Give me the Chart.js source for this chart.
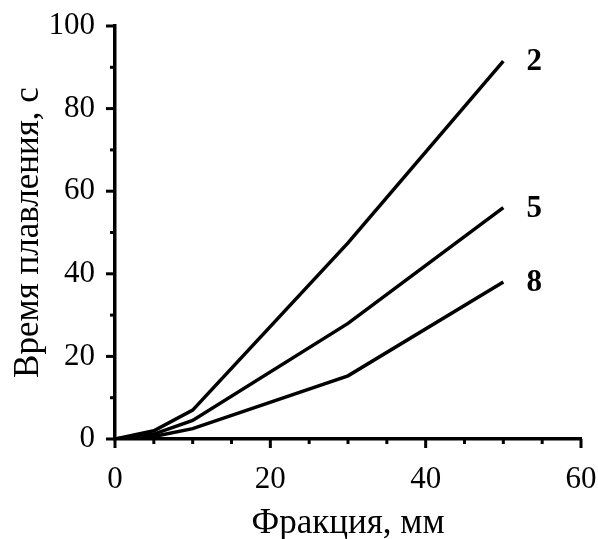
<!DOCTYPE html>
<html lang="ru">
<head>
  <meta charset="UTF-8">
  <title>Время плавления</title>
  <script src="https://cdn.jsdelivr.net/npm/chart.js"></script>
  <style>
    html, body { margin: 0; padding: 0; background: #fff; }
    .chart-container { position: relative; width: 598px; height: 539px; }
  </style>
</head>
<body>
  <div class="chart-container">
    <canvas id="meltChart"></canvas>
  </div>

  <script>
    // Фракция, мм
    const fractions = [0, 5, 10, 30, 50];
    // Время плавления, с — для кривых 2, 5, 8
    const series2 = [0, 2, 7, 47.5, 91.5];
    const series5 = [0, 1.2, 4.5, 28, 56];
    const series8 = [0, 0.6, 2.5, 15.3, 38];
    const seriesNames = ['2', '5', '8'];

    const serif = "'Liberation Serif', 'Times New Roman', serif";

    function toPoints(values) {
      return fractions.map((x, i) => ({ x: x, y: values[i] }));
    }

    // Засечки: длинные на подписанных значениях, короткие на остальных
    const tickMarks = {
      id: 'tickMarks',
      afterDraw(chart) {
        const ctx = chart.ctx;
        const xs = chart.scales.x;
        const ys = chart.scales.y;
        ctx.save();
        ctx.strokeStyle = '#000';
        ctx.lineWidth = 3;
        xs.ticks.forEach(t => {
          const px = xs.getPixelForValue(t.value);
          const len = t.value % 20 === 0 ? 9 : 5;
          ctx.beginPath();
          ctx.moveTo(px, ys.bottom);
          ctx.lineTo(px, ys.bottom + len);
          ctx.stroke();
        });
        ys.ticks.forEach(t => {
          const py = ys.getPixelForValue(t.value);
          const len = t.value % 20 === 0 ? 9 : 5;
          ctx.beginPath();
          ctx.moveTo(xs.left, py);
          ctx.lineTo(xs.left - len, py);
          ctx.stroke();
        });
        ctx.restore();
      }
    };

    // Номера кривых справа от концов линий
    const curveLabels = {
      id: 'curveLabels',
      afterDatasetsDraw(chart) {
        const ctx = chart.ctx;
        ctx.save();
        ctx.fillStyle = '#000';
        ctx.font = 'bold 31px ' + serif;
        ctx.textAlign = 'center';
        ctx.textBaseline = 'middle';
        chart.data.datasets.forEach((ds, i) => {
          const last = ds.data[ds.data.length - 1];
          const px = chart.scales.x.getPixelForValue(last.x) + 31;
          const py = chart.scales.y.getPixelForValue(last.y) + 1;
          ctx.fillText(seriesNames[i], px, py);
        });
        ctx.restore();
      }
    };

    const lineStyle = {
      borderColor: '#000',
      borderWidth: 3.5,
      pointRadius: 0,
      fill: false,
      tension: 0
    };

    new Chart(document.getElementById('meltChart'), {
      type: 'line',
      data: {
        datasets: [
          Object.assign({ label: seriesNames[0], data: toPoints(series2) }, lineStyle),
          Object.assign({ label: seriesNames[1], data: toPoints(series5) }, lineStyle),
          Object.assign({ label: seriesNames[2], data: toPoints(series8) }, lineStyle)
        ]
      },
      options: {
        responsive: true,
        maintainAspectRatio: false,
        animation: false,
        layout: { padding: { top: 26, right: 17, left: 0, bottom: 0 } },
        plugins: {
          legend: { display: false },
          tooltip: { enabled: false }
        },
        scales: {
          x: {
            type: 'linear',
            min: 0,
            max: 60,
            border: { display: true, color: '#000', width: 3.5 },
            grid: { display: false, drawTicks: false },
            ticks: {
              stepSize: 5,
              autoSkip: false,
              maxRotation: 0,
              padding: 22,
              color: '#000',
              font: { family: serif, size: 31 },
              callback: v => (v % 20 === 0 ? v : '')
            },
            title: {
              display: true,
              text: 'Фракция, мм',
              color: '#000',
              font: { family: serif, size: 35 },
              padding: { top: 2, bottom: -6 }
            },
            afterFit(scale) {
              scale.height = 100;
              scale.paddingLeft = 0;
              scale.paddingRight = 0;
            }
          },
          y: {
            min: 0,
            max: 100,
            border: { display: true, color: '#000', width: 3.5 },
            grid: { display: false, drawTicks: false },
            ticks: {
              stepSize: 10,
              autoSkip: false,
              padding: 20,
              color: '#000',
              font: { family: serif, size: 31 },
              callback: v => (v % 20 === 0 ? v : '')
            },
            title: {
              display: true,
              text: 'Время плавления, с',
              color: '#000',
              font: { family: serif, size: 35 },
              padding: { top: 8, bottom: 2 }
            },
            afterFit(scale) {
              scale.width = 115;
              scale.paddingTop = 0;
              scale.paddingBottom = 0;
            }
          }
        }
      },
      plugins: [tickMarks, curveLabels]
    });
  </script>
</body>
</html>
